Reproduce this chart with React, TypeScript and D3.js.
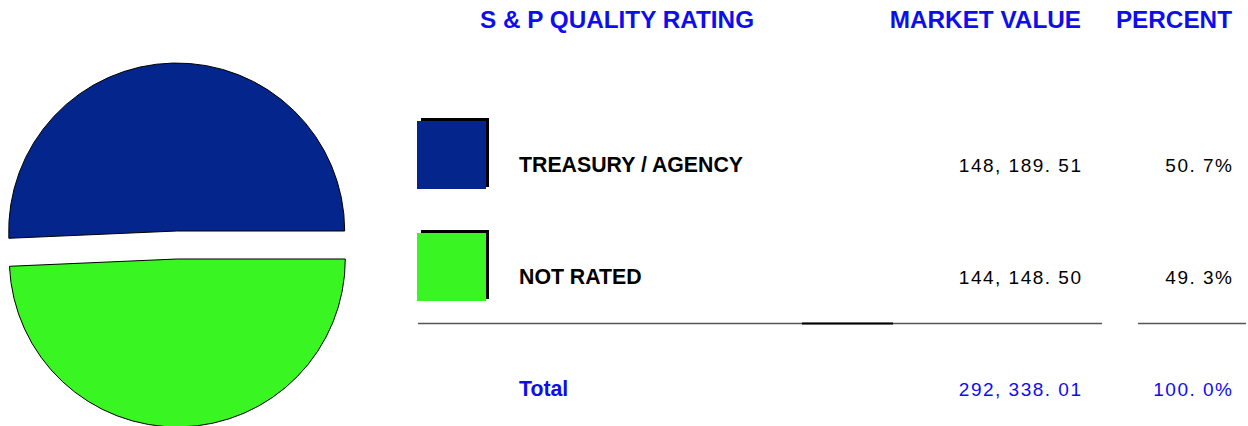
import React from "react";
import * as d3 from "d3";

const categories = ["TREASURY / AGENCY", "NOT RATED"];
const marketValues = [148189.51, 144148.5];
const percents = [50.7, 49.3];
const totalValue = 292338.01;
const totalPercent = 100.0;
const colors = ["#03258c", "#39f522"];
const headers = ["S & P QUALITY RATING", "MARKET VALUE", "PERCENT"];

const W = 1248;
const H = 426;
const BLUE = "#0d0df0";

const fmtMoney = (v: number) =>
  d3.format(",.2f")(v).replace(/,/g, ", ").replace(".", ". ");
const fmtPct = (v: number) => d3.format(".1f")(v).replace(".", ". ") + "%";

export default function App() {
  const cx = 177;
  const cy = 245;
  const r = 168;
  const explode = 14;
  const pie = d3
    .pie<number>()
    .sort(null)
    .startAngle(Math.PI / 2)
    .endAngle(Math.PI / 2 - 2 * Math.PI);
  const arcs = pie(marketValues);
  const arcGen = d3.arc<d3.PieArcDatum<number>>().innerRadius(0).outerRadius(r);

  const rowY = d3.scalePoint<number>().domain([0, 1, 2]).range([172, 396]);
  const labelX = 519;
  const valueX = 1081;
  const pctX = 1232;
  const valueStyle = {
    fontFamily: "Arial, 'Liberation Sans', sans-serif",
    fontSize: 19,
    letterSpacing: 1.5,
  } as React.CSSProperties;
  const boldStyle = {
    fontFamily: "Arial, 'Liberation Sans', sans-serif",
    fontSize: 21.3,
    fontWeight: 700,
  } as React.CSSProperties;

  return (
    <svg
      width={W}
      height={H}
      style={{ position: "absolute", left: 0, top: 0, background: "#fff" }}
    >
      {arcs.map((a, i) => {
        const mid = (a.startAngle + a.endAngle) / 2;
        const dx = explode * Math.sin(mid);
        const dy = -explode * Math.cos(mid);
        return (
          <path
            key={i}
            d={arcGen(a) || ""}
            transform={`translate(${cx + dx},${cy + dy})`}
            fill={colors[i]}
            stroke="#000"
            strokeWidth={1}
          />
        );
      })}

      <g
        fill={BLUE}
        style={{
          fontFamily: "Arial, 'Liberation Sans', sans-serif",
          fontSize: 24.3,
          fontWeight: 700,
        }}
      >
        <text x={480} y={28}>
          {headers[0]}
        </text>
        <text x={valueX} y={28} textAnchor="end">
          {headers[1]}
        </text>
        <text x={pctX} y={28} textAnchor="end">
          {headers[2]}
        </text>
      </g>

      {categories.map((c, i) => {
        const y = rowY(i)!;
        return (
          <g key={c}>
            <rect x={421} y={y - 54} width={68} height={69} fill="#000" />
            <rect x={417} y={y - 51} width={69} height={68} fill={colors[i]} />
            <text x={labelX} y={y} style={boldStyle} fill="#000">
              {c}
            </text>
            <text x={valueX + 1.5} y={y} textAnchor="end" style={valueStyle} fill="#000">
              {fmtMoney(marketValues[i])}
            </text>
            <text x={pctX + 1.5} y={y} textAnchor="end" style={valueStyle} fill="#000">
              {fmtPct(percents[i])}
            </text>
          </g>
        );
      })}

      <line x1={418} x2={1102} y1={323.5} y2={323.5} stroke="#555" strokeWidth={1.5} />
      <line x1={802} x2={893} y1={323.5} y2={323.5} stroke="#000" strokeWidth={2} />
      <line x1={1138} x2={1246} y1={323.5} y2={323.5} stroke="#555" strokeWidth={1.5} />

      <text x={labelX} y={rowY(2)} style={boldStyle} fill={BLUE}>
        Total
      </text>
      <text x={valueX + 1.5} y={rowY(2)} textAnchor="end" style={valueStyle} fill={BLUE}>
        {fmtMoney(totalValue)}
      </text>
      <text x={pctX + 1.5} y={rowY(2)} textAnchor="end" style={valueStyle} fill={BLUE}>
        {fmtPct(totalPercent)}
      </text>
    </svg>
  );
}
